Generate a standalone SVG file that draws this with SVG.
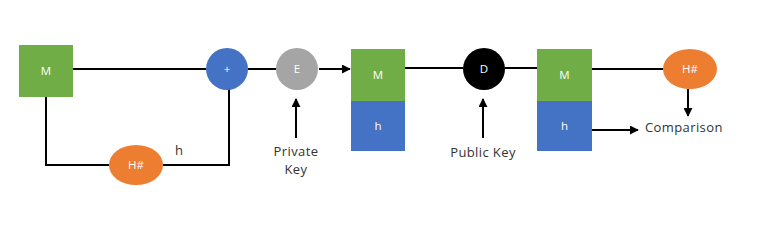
<svg xmlns="http://www.w3.org/2000/svg" width="782" height="228" viewBox="0 0 782 228">
<defs>
<marker id="arr" viewBox="0 0 10 10" refX="9" refY="5" markerWidth="4.5" markerHeight="4.5" orient="auto" markerUnits="strokeWidth">
<path d="M0,0 L10,5 L0,10 z" fill="#000"/>
</marker>
<style>
.ln{stroke:#000;stroke-width:2;fill:none}
.ar{stroke:#000;stroke-width:2;fill:none;marker-end:url(#arr)}
.wt{fill:#fff;font-family:"Open Sans","Liberation Sans",sans-serif;font-size:11.5px;text-anchor:middle}
.bt{fill:#333;font-family:"Open Sans","Liberation Sans",sans-serif;font-size:13px;letter-spacing:0.4px}
.g{fill:#70AD47}
.b{fill:#4472C4}
.o{fill:#ED7D31}
</style>
</defs>
<rect width="782" height="228" fill="#fff"/>
<g id="connectors">
<path class="ln" d="M73,69 H206"/>
<path class="ln" d="M46,97 V165 H109"/>
<path class="ln" d="M163,165 H229 V89"/>
<path class="ln" d="M248,69 H276"/>
<path class="ar" d="M319,69 H350"/>
<path class="ar" d="M296,138 V99"/>
<path class="ln" d="M405,68 H463"/>
<path class="ar" d="M483,138 V99"/>
<path class="ln" d="M505,68 H537"/>
<path class="ln" d="M592,69 H663"/>
<path class="ar" d="M688,89 V116"/>
<path class="ar" d="M592,130 H638"/>
</g>
<g id="m1"><rect class="g" x="19" y="45" width="54" height="52"/><text class="wt" x="46" y="75">M</text></g>
<g id="hash1"><ellipse class="o" cx="136" cy="165" rx="27" ry="20"/><text class="wt" x="136" y="169">H#</text></g>
<g id="hlabel"><text class="bt" x="175" y="155">h</text></g>
<g id="plus"><circle class="b" cx="227" cy="69" r="21"/><text class="wt" x="227" y="73">+</text></g>
<g id="enc"><circle cx="297" cy="69" r="21" fill="#A5A5A5"/><text class="wt" x="297" y="73">E</text></g>
<g id="privkey"><text class="bt" x="296" y="156" text-anchor="middle">Private</text><text class="bt" x="296" y="174" text-anchor="middle">Key</text></g>
<g id="msg2"><rect class="g" x="351" y="49" width="54" height="52"/><rect class="b" x="351" y="101" width="54" height="50"/><text class="wt" x="378" y="79">M</text><text class="wt" x="378" y="130">h</text></g>
<g id="dec"><circle cx="484" cy="69" r="21" fill="#000"/><text class="wt" x="484" y="73">D</text></g>
<g id="pubkey"><text class="bt" x="483" y="157" text-anchor="middle">Public Key</text></g>
<g id="msg3"><rect class="g" x="537" y="49" width="55" height="52"/><rect class="b" x="537" y="101" width="55" height="50"/><text class="wt" x="564.5" y="79">M</text><text class="wt" x="564.5" y="130">h</text></g>
<g id="hash2"><ellipse class="o" cx="690" cy="69" rx="27" ry="20"/><text class="wt" x="690" y="73">H#</text></g>
<g id="comparison"><text class="bt" x="645" y="132">Comparison</text></g>
</svg>
